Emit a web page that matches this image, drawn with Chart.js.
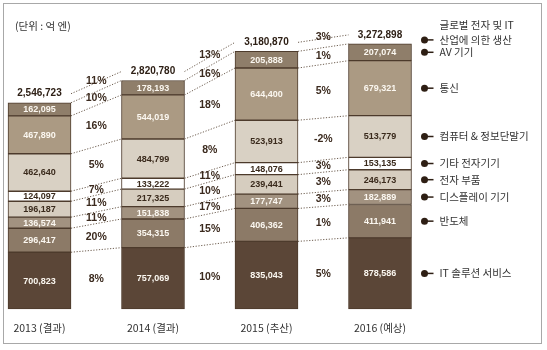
<!DOCTYPE html>
<html>
<head>
<meta charset="utf-8">
<script src="https://cdn.jsdelivr.net/npm/chart.js@4/dist/chart.umd.min.js"></script>
<style>
  html, body { margin: 0; padding: 0; background: #fff; }
  #wrap { width: 547px; height: 350px; }
</style>
</head>
<body>
<div id="wrap"><canvas id="myChart" width="547" height="350"></canvas></div>
<script>
const categories = ['2013 (결과)', '2014 (결과)', '2015 (추산)', '2016 (예상)'];
const unitLabel = '(단위 : 억 엔)';
const totalName = ['글로벌 전자 및 IT', '산업에 의한 생산'];

// bottom to top
const seriesNames = ['IT 솔루션 서비스', '반도체', '디스플레이 기기', '전자 부품', '기타 전자기기', '컴퓨터 & 정보단말기', '통신', 'AV 기기'];
const itSolution = [700823, 757069, 835043, 878586];
const semiconductor = [296417, 354315, 406362, 411941];
const displayDevices = [136574, 151838, 177747, 182889];
const components = [196187, 217325, 239441, 246173];
const otherDevices = [124097, 133222, 148076, 153135];
const computers = [462640, 484799, 523913, 513779];
const telecom = [467890, 544019, 644400, 679321];
const avDevices = [162095, 178193, 205888, 207074];
const totals = [2546723, 2820780, 3180870, 3272898];

// year-on-year growth (%) between neighbouring bars
const growthIT = [8, 10, 5];
const growthSemi = [20, 15, 1];
const growthDisplay = [11, 17, 3];
const growthComponents = [11, 10, 3];
const growthOther = [7, 11, 3];
const growthComputers = [5, 8, -2];
const growthTelecom = [16, 18, 5];
const growthAV = [10, 16, 1];
const growthTotal = [11, 13, 3];

const seriesValues = [itSolution, semiconductor, displayDevices, components, otherDevices, computers, telecom, avDevices];
const seriesGrowth = [growthIT, growthSemi, growthDisplay, growthComponents, growthOther, growthComputers, growthTelecom, growthAV];
const fills = ['#5b4637', '#8c7a67', '#a29280', '#d6cdbf', '#ffffff', '#d9d1c4', '#ab9a83', '#8f7e6a'];
const textColors = ['#fbf7f0', '#fbf7f0', '#fbf7f0', '#3a2a1c', '#3a2a1c', '#3a2a1c', '#fbf7f0', '#fbf7f0'];

const fmt = v => v.toLocaleString('en-US');
const numFont = 'bold 9px "Liberation Sans", Arial, sans-serif';
const pctFont = 'bold 10.5px "Liberation Sans", Arial, sans-serif';
const korFont = '"Noto Sans CJK KR", sans-serif';

const overlay = {
  id: 'overlay',
  beforeDraw(chart) {
    const ctx = chart.ctx;
    ctx.save();
    ctx.fillStyle = '#fff';
    ctx.fillRect(0, 0, chart.width, chart.height);
    ctx.strokeStyle = '#a8a8a8';
    ctx.lineWidth = 1;
    ctx.strokeRect(3.5, 3.5, 538, 340);
    ctx.fillStyle = '#333';
    ctx.font = '10.5px ' + korFont;
    ctx.textBaseline = 'middle';
    ctx.fillText(unitLabel, 15, 26);
    ctx.restore();
  },
  afterDatasetsDraw(chart) {
    const ctx = chart.ctx;
    const y = chart.scales.y;
    const metas = seriesValues.map((_, k) => chart.getDatasetMeta(k));
    ctx.save();

    // dotted connectors + growth labels
    for (let g = 0; g < categories.length - 1; g++) {
      const a0 = metas[0].data[g], b0 = metas[0].data[g + 1];
      const xa = a0.x + a0.width / 2, xb = b0.x - b0.width / 2;
      const xm = (xa + xb) / 2;
      ctx.strokeStyle = '#6e5e50';
      ctx.lineWidth = 1;
      ctx.setLineDash([1.2, 1.6]);
      metas.forEach(m => {
        ctx.beginPath();
        ctx.moveTo(xa, m.data[g].y);
        ctx.lineTo(xb, m.data[g + 1].y);
        ctx.stroke();
      });
      const ta = y.getPixelForValue(totals[g]) - 9, tb = y.getPixelForValue(totals[g + 1]) - 9;
      ctx.beginPath();
      ctx.moveTo(xa, ta);
      ctx.lineTo(xb, tb);
      ctx.stroke();
      ctx.setLineDash([]);

      ctx.fillStyle = '#3b2a1e';
      ctx.font = pctFont;
      ctx.textAlign = 'center';
      ctx.textBaseline = 'middle';
      metas.forEach((m, k) => {
        const ea = m.data[g], eb = m.data[g + 1];
        const ym = ((ea.y + ea.base) / 2 + (eb.y + eb.base) / 2) / 2;
        ctx.fillText(seriesGrowth[k][g] + '%', xm, ym);
      });
      ctx.fillText(growthTotal[g] + '%', xm, (ta + tb) / 2 - 2);
    }

    // values inside bars and totals above
    ctx.textAlign = 'center';
    ctx.textBaseline = 'middle';
    metas.forEach((m, k) => {
      m.data.forEach((el, i) => {
        ctx.fillStyle = textColors[k];
        ctx.font = numFont;
        ctx.fillText(fmt(seriesValues[k][i]), el.x, (el.y + el.base) / 2 + 0.5);
      });
    });
    ctx.fillStyle = '#2e2016';
    ctx.font = 'bold 10px "Liberation Sans", Arial, sans-serif';
    metas[0].data.forEach((el, i) => {
      ctx.fillText(fmt(totals[i]), el.x, y.getPixelForValue(totals[i]) - 9);
    });

    // legend pointing at the last bar
    const last = categories.length - 1;
    const lastEl = metas[0].data[last];
    const mx = lastEl.x + lastEl.width / 2 + 13;
    const marker = (yy) => {
      ctx.fillStyle = '#2e1f14';
      ctx.strokeStyle = '#2e1f14';
      ctx.lineWidth = 1.5;
      ctx.beginPath();
      ctx.arc(mx, yy, 3.5, 0, Math.PI * 2);
      ctx.fill();
      ctx.beginPath();
      ctx.moveTo(mx, yy);
      ctx.lineTo(mx + 9, yy);
      ctx.stroke();
    };
    ctx.textAlign = 'left';
    ctx.font = '10.5px ' + korFont;
    metas.forEach((m, k) => {
      const el = m.data[last];
      const yy = (el.y + el.base) / 2;
      marker(yy);
      ctx.fillStyle = '#333';
      ctx.fillText(seriesNames[k], mx + 15, yy);
    });
    const ty = y.getPixelForValue(totals[last]) - 4;
    marker(ty);
    ctx.fillStyle = '#333';
    ctx.fillText(totalName[0], mx + 15, ty - 15);
    ctx.fillText(totalName[1], mx + 15, ty);
    ctx.restore();
  }
};

const ctx = document.getElementById('myChart').getContext('2d');
new Chart(ctx, {
  type: 'bar',
  data: {
    labels: categories,
    datasets: seriesValues.map((vals, k) => ({
      label: seriesNames[k],
      data: vals,
      backgroundColor: fills[k],
      borderColor: '#4d3b2c',
      borderWidth: 1,
      borderSkipped: false,
      barThickness: 63,
      clip: false
    }))
  },
  options: {
    responsive: false,
    devicePixelRatio: 1,
    animation: false,
    layout: { padding: { left: 39.5, right: 167, top: 25.5, bottom: 10.4 } },
    plugins: { legend: { display: false }, tooltip: { enabled: false } },
    scales: {
      x: {
        stacked: true,
        offset: false,
        grid: { display: false },
        border: { display: false },
        ticks: { color: '#333', font: { family: 'Noto Sans CJK KR', size: 10.5 }, padding: 5, maxRotation: 0 }
      },
      y: {
        stacked: true,
        display: false,
        min: 0,
        max: 3500000
      }
    }
  },
  plugins: [overlay]
});
</script>
</body>
</html>
